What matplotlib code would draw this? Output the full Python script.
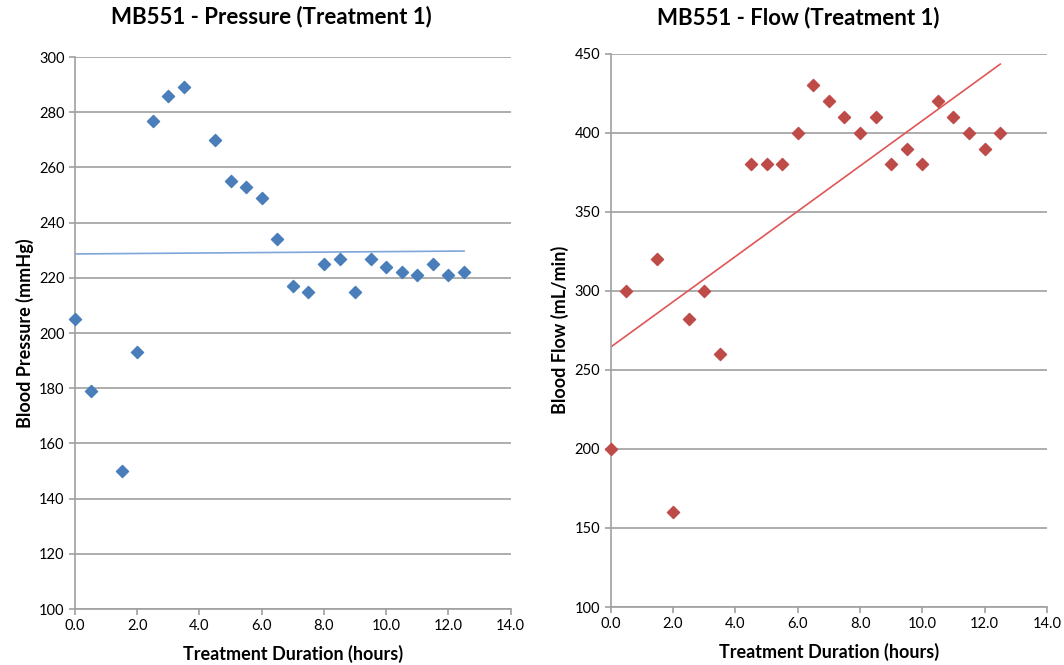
import numpy as np
import matplotlib
matplotlib.use("Agg")
import matplotlib.pyplot as plt
from matplotlib.ticker import FormatStrFormatter

plt.rcParams['font.family'] = ['Lato', 'DejaVu Sans']

hours = [0, 0.5, 1.5, 2, 2.5, 3, 3.5, 4.5, 5, 5.5, 6, 6.5, 7, 7.5, 8, 8.5,
         9, 9.5, 10, 10.5, 11, 11.5, 12, 12.5]
pressure = [205, 179, 150, 193, 277, 286, 289, 270, 255, 253, 249, 234, 217,
            215, 225, 227, 215, 227, 224, 222, 221, 225, 221, 222]
flow = [200, 300, 320, 160, 282, 300, 260, 380, 380, 380, 400, 430, 420, 410,
        400, 410, 380, 390, 380, 420, 410, 400, 390, 400]

grid_col = '#a0a0a0'


def style_axes(ax, ylim, ystep):
    ax.set_xlim(0, 14)
    ax.set_ylim(*ylim)
    ax.set_xticks(np.arange(0, 14.1, 2))
    ax.set_yticks(np.arange(ylim[0], ylim[1] + 0.1, ystep))
    ax.xaxis.set_major_formatter(FormatStrFormatter('%.1f'))
    ax.yaxis.grid(True, color=grid_col, linewidth=1.2)
    ax.set_axisbelow(True)
    for s in ['top', 'right']:
        ax.spines[s].set_visible(False)
    for s in ['left', 'bottom']:
        ax.spines[s].set_color(grid_col)
        ax.spines[s].set_linewidth(1.2)
    ax.tick_params(axis='both', colors=grid_col, labelcolor='black',
                   labelsize=10.5, length=4, width=1.2, direction='out')
    ax.set_xlabel('Treatment Duration (hours)', fontsize=13, fontweight='bold',
                  labelpad=8)


fig = plt.figure(figsize=(10.64, 6.65), dpi=100)
ax1 = fig.add_axes([0.0705, 0.0842, 0.4095, 0.83])
ax2 = fig.add_axes([0.574, 0.0872, 0.41, 0.832])

x = np.array(hours)

# pressure
ax1.scatter(hours, pressure, marker='D', s=38, color='#4a7ebb', zorder=3,
            clip_on=False)
p = np.polyfit(hours, pressure, 1)
ax1.plot([x.min(), x.max()], np.polyval(p, [x.min(), x.max()]),
         color='#7ea6d9', linewidth=1.2, zorder=2)
style_axes(ax1, (100, 300), 20)
ax1.set_ylabel('Blood Pressure (mmHg)', fontsize=13, fontweight='bold')
ax1.set_title('MB551 - Pressure (Treatment 1)', fontsize=16,
              fontweight='bold', x=0.45, pad=24)

# flow
ax2.scatter(hours, flow, marker='D', s=38, color='#be4b48', zorder=3,
            clip_on=False)
f = np.polyfit(hours, flow, 1)
ax2.plot([x.min(), x.max()], np.polyval(f, [x.min(), x.max()]),
         color='#e05555', linewidth=1.2, zorder=2)
style_axes(ax2, (100, 450), 50)
ax2.set_ylabel('Blood Flow (mL/min)', fontsize=13, fontweight='bold')
ax2.set_title('MB551 - Flow (Treatment 1)', fontsize=16,
              fontweight='bold', x=0.43, pad=21)

fig.savefig('out.png', dpi=100)
